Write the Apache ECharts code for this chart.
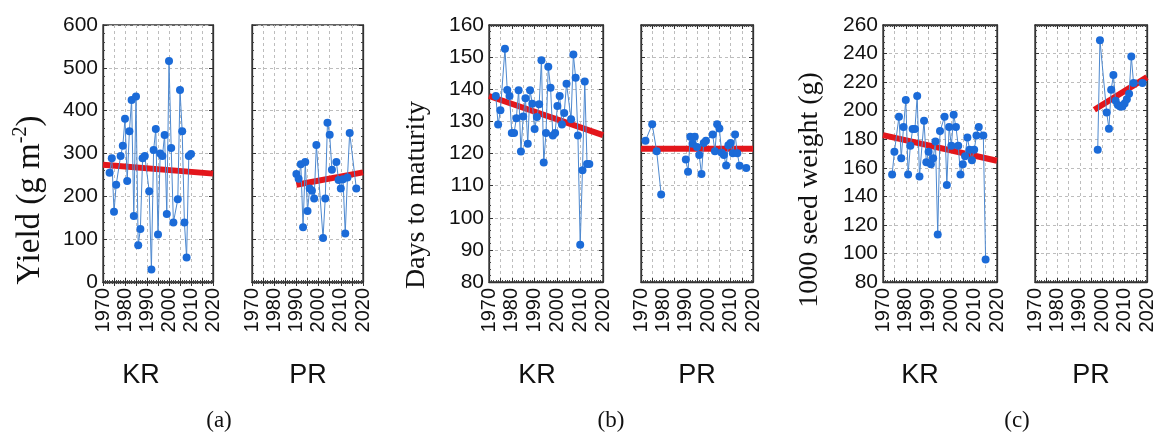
<!DOCTYPE html>
<html>
<head>
<meta charset="utf-8">
<script src="https://cdn.jsdelivr.net/npm/echarts@6.0.0/dist/echarts.min.js"></script>
<style>
html, body { margin: 0; padding: 0; background: #fff; }
#chart { width: 1157px; height: 435px; }
</style>
</head>
<body>
<div id="chart"></div>
<script>
// (a) yield, g m-2
const krYieldYears = [1973, 1974, 1975, 1976, 1978, 1979, 1980, 1981, 1982, 1983, 1984, 1985, 1986, 1987, 1988, 1989,
  1991, 1992, 1993, 1994, 1995, 1996, 1997, 1998, 1999, 2000, 2001, 2002, 2004, 2005, 2006, 2007, 2008, 2009, 2010];
const krYieldValues = [255, 289, 164, 227, 294, 318, 381, 236, 352, 425, 154, 433, 86, 124, 289, 294,
  212, 29, 308, 357, 111, 300, 294, 343, 159, 516, 313, 139, 193, 448, 352, 139, 57, 294, 299];
const krYieldTrend = [[1970, 274], [2020, 253]];

const prYieldYears = [1990, 1991, 1992, 1993, 1994, 1995, 1996, 1997, 1998, 1999, 2002, 2003, 2004, 2005, 2006,
  2008, 2009, 2010, 2011, 2012, 2013, 2014, 2017];
const prYieldValues = [252, 241, 275, 128, 280, 166, 218, 213, 195, 320, 103, 195, 372, 344, 262,
  280, 238, 218, 240, 113, 244, 348, 218];
const prYieldTrend = [[1990, 227], [2020, 256]];

// (b) days to maturity
const krDaysYears = [1973, 1974, 1975, 1977, 1978, 1979, 1980, 1981, 1982, 1983, 1984, 1985, 1986, 1987, 1988, 1989,
  1990, 1991, 1992, 1993, 1994, 1995, 1996, 1997, 1998, 1999, 2000, 2001, 2002, 2003, 2004,
  2006, 2007, 2008, 2009, 2010, 2011, 2012, 2013, 2014];
const krDaysValues = [137.9, 129, 133.5, 152.6, 139.8, 137.9, 126.4, 126.4, 131, 139.7, 120.6, 131.5, 137.2, 123, 139.7, 135.5,
  127.6, 131.4, 135.3, 149, 117.2, 126.4, 147, 140.5, 125.6, 126.4, 134.8, 137.9, 129, 132.6, 141.7,
  130.7, 150.8, 143.6, 125.6, 91.6, 114.8, 142.4, 116.7, 116.7];
const krDaysTrend = [[1970, 137.9], [2020, 125.7]];

// '-' marks the break in the record between 1979 and 1990
const prDaysYears = [1972, 1975, 1977, 1979, 1985, 1990, 1991, 1992, 1993, 1994, 1995, 1996, 1997, 1998, 1999,
  2002, 2003, 2004, 2005, 2006, 2007, 2008, 2009, 2010, 2011, 2012, 2013, 2014, 2017];
const prDaysValues = [124, 129.1, 120.7, 107.2, '-', 118.1, 114.3, 125.2, 123, 125.2, 122, 119.5, 113.6, 123.3, 124,
  125.9, 120.7, 129.1, 127.8, 120.2, 119.5, 116.3, 122.6, 123.3, 120.1, 125.9, 120.1, 116.2, 115.5];
const prDaysTrend = [[1970, 121.5], [2020, 121.5]];

// (c) 1000 seed weight, g
const krSeedYears = [1974, 1975, 1977, 1978, 1979, 1980, 1981, 1982, 1983, 1984, 1985, 1986,
  1988, 1989, 1990, 1991, 1992, 1993, 1994, 1995, 1997, 1998, 1999, 2000, 2001, 2002, 2003, 2004,
  2005, 2006, 2007, 2008, 2009, 2010, 2011, 2012, 2014, 2015];
const krSeedValues = [155.3, 171.2, 195.7, 166.7, 188.5, 207.4, 155.3, 175.4, 187.1, 187.1, 210.2, 153.9,
  192.9, 163.9, 171.2, 162.5, 166.7, 178.4, 113.2, 185.7, 195.7, 148, 188.5, 175.4, 197.1, 188.5, 175.4, 155.3,
  162.5, 168.1, 181.2, 172.6, 165.3, 172.6, 182.6, 188.5, 182.6, 95.7];
const krSeedTrend = [[1970, 182.9], [2020, 164.9]];

const prSeedYears = [1998, 1999, 2002, 2003, 2004, 2005, 2006, 2007, 2008, 2009, 2010, 2011, 2012, 2013, 2014, 2018];
const prSeedValues = [172.7, 249.3, 198.8, 187.4, 214.6, 224.9, 207, 204, 203, 203, 205, 208, 211.8, 237.9, 219.3, 219.3];
const prSeedTrend = [[1996.5, 200.6], [2020, 223.5]];

const yearMin = 1970, yearMax = 2020;

let chart = echarts.init(document.getElementById('chart'));

let panels = [
  { years: krYieldYears, values: krYieldValues, trend: krYieldTrend, min: 0, max: 600, step: 100, labels: true, box: [103, 25, 110, 257] },
  { years: prYieldYears, values: prYieldValues, trend: prYieldTrend, min: 0, max: 600, step: 100, labels: false, box: [252, 25, 111, 257] },
  { years: krDaysYears, values: krDaysValues, trend: krDaysTrend, min: 80, max: 160, step: 10, labels: true, box: [489, 25, 114, 257] },
  { years: prDaysYears, values: prDaysValues, trend: prDaysTrend, min: 80, max: 160, step: 10, labels: false, box: [641, 25, 112, 257] },
  { years: krSeedYears, values: krSeedValues, trend: krSeedTrend, min: 80, max: 260, step: 20, labels: true, box: [883, 25, 114, 257] },
  { years: prSeedYears, values: prSeedValues, trend: prSeedTrend, min: 80, max: 260, step: 20, labels: false, box: [1035, 25, 113, 257] }
];

const frame = { show: true, lineStyle: { color: '#333', width: 1.3 } };
const tick = { show: true, inside: true, length: 4, lineStyle: { color: '#333' } };
const minor = { show: true, splitNumber: 5, length: 2, lineStyle: { color: '#444' } };
const grid_line = { show: true, lineStyle: { color: '#bdbdbd', type: [3, 3], width: 1 } };

let grid = [], xAxis = [], yAxis = [], series = [];

panels.forEach(function(p, i) {
  grid.push({ left: p.box[0], top: p.box[1], width: p.box[2], height: p.box[3], show: true, borderColor: '#333', borderWidth: 1.3 });

  let xBase = { type: 'value', gridIndex: i, min: yearMin, max: yearMax, interval: 5, axisLine: frame, axisTick: tick, minorTick: minor };
  xAxis.push(Object.assign({}, xBase, {
    position: 'bottom',
    splitLine: grid_line,
    axisLabel: {
      rotate: 90, margin: 6, fontSize: 20, color: '#111', fontFamily: 'Liberation Sans',
      formatter: function(v) { return v % 10 === 0 ? String(v) : ''; }
    }
  }));
  xAxis.push(Object.assign({}, xBase, { position: 'top', splitLine: { show: false }, axisLabel: { show: false } }));

  let yBase = { type: 'value', gridIndex: i, min: p.min, max: p.max, interval: p.step, axisLine: frame, axisTick: tick, minorTick: minor };
  yAxis.push(Object.assign({}, yBase, {
    position: 'left',
    splitLine: grid_line,
    axisLabel: { show: p.labels, margin: 5, fontSize: 21, color: '#111', fontFamily: 'Liberation Sans' }
  }));
  yAxis.push(Object.assign({}, yBase, { position: 'right', splitLine: { show: false }, axisLabel: { show: false } }));

  series.push({
    type: 'line',
    xAxisIndex: 2 * i,
    yAxisIndex: 2 * i,
    data: p.years.map(function(y, k) { return [y, p.values[k]]; }),
    symbol: 'circle',
    symbolSize: 8,
    itemStyle: { color: '#1b6bd8' },
    lineStyle: { color: '#4d88cf', width: 1 },
    z: 3
  });
  series.push({
    type: 'line',
    xAxisIndex: 2 * i,
    yAxisIndex: 2 * i,
    data: p.trend,
    symbol: 'none',
    lineStyle: { color: '#e3161b', width: 6 },
    z: 2
  });
});

const serif = '"Liberation Serif", "Times New Roman", serif';
const sans = '"Liberation Sans", Arial, sans-serif';

function yTitle(x, y, size, text, rich) {
  return {
    type: 'text', x: x, y: y, rotation: Math.PI / 2,
    style: { text: text, font: size + 'px ' + serif, fill: '#111', align: 'center', verticalAlign: 'middle', rich: rich }
  };
}
function label(x, y, text, font) {
  return { type: 'text', x: x, y: y, style: { text: text, font: font, fill: '#111', align: 'center', verticalAlign: 'middle' } };
}

let graphic = [
  yTitle(30, 200, 33, '{a|Yield (g m}{s|-2}{a|)}', {
    a: { fontSize: 33, fontFamily: serif, lineHeight: 38, verticalAlign: 'middle' },
    s: { fontSize: 20, fontFamily: serif, lineHeight: 20, verticalAlign: 'top' }
  }),
  yTitle(417, 195, 28, 'Days to maturity'),
  yTitle(810, 190, 28, '1000 seed weight (g)'),
  label(141, 376, 'KR', '27px ' + sans),
  label(308, 376, 'PR', '27px ' + sans),
  label(537, 376, 'KR', '27px ' + sans),
  label(697, 376, 'PR', '27px ' + sans),
  label(920, 376, 'KR', '27px ' + sans),
  label(1091, 376, 'PR', '27px ' + sans),
  label(219, 421, '(a)', '23px ' + serif),
  label(611, 421, '(b)', '23px ' + serif),
  label(1017, 421, '(c)', '23px ' + serif)
];

chart.setOption({
  animation: false,
  backgroundColor: '#fff',
  grid: grid,
  xAxis: xAxis,
  yAxis: yAxis,
  series: series,
  graphic: graphic
});
</script>
</body>
</html>
